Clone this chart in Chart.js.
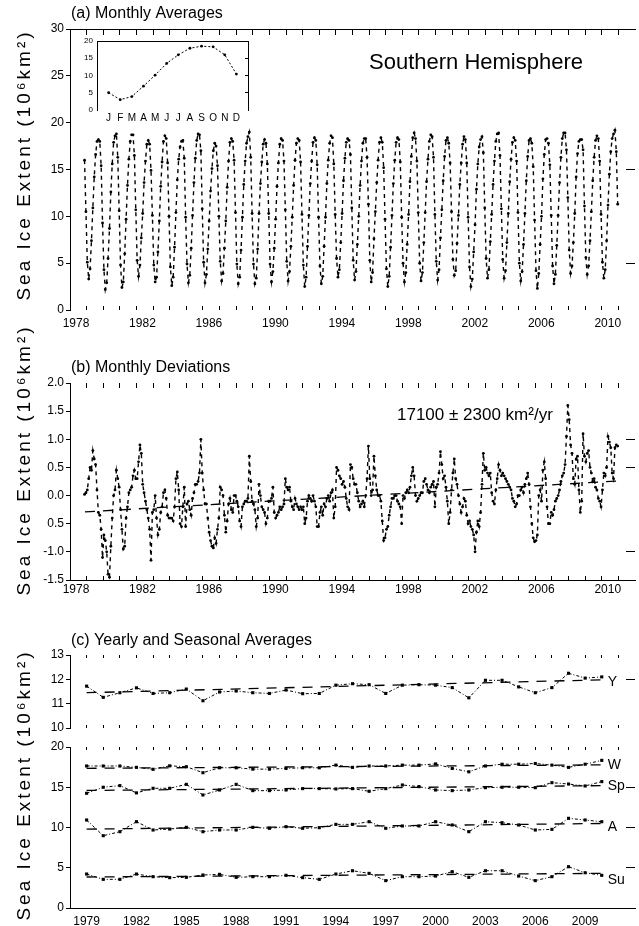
<!DOCTYPE html>
<html>
<head>
<meta charset="utf-8">
<title>Southern Hemisphere sea ice extent</title>
<script src="https://cdn.jsdelivr.net/npm/chart.js@4.4.1/dist/chart.umd.min.js"></script>
<style>
  html, body { margin: 0; padding: 0; background: #fff; }
  #fig { position: relative; width: 639px; height: 926px; overflow: hidden; }
  #fig canvas { position: absolute; }
</style>
</head>
<body>
<div id="fig">
  <canvas id="panelA" width="639" height="340" style="left:0;top:0"></canvas>
  <canvas id="inset" width="180" height="95" style="left:75px;top:30px"></canvas>
  <canvas id="panelB" width="639" height="310" style="left:0;top:300px"></canvas>
  <canvas id="panelC2" width="639" height="316" style="left:0;top:610px"></canvas>
  <canvas id="panelC1" width="639" height="130" style="left:0;top:610px"></canvas>
</div>
<script>
// monthly series start in November 1978
const firstYear = 1978;
const firstMonth = 10;

// (a) monthly averages, 10^6 km^2
const monthlyExtent = [
  16.0, 10.5,
  5.1, 3.3, 4.4, 7.4, 10.9, 14.2, 16.6, 18.0, 18.2, 18.0, 15.4, 9.3,   // 1979
  4.3, 2.2, 2.9, 5.5, 8.7, 12.6, 15.6, 17.9, 18.6, 18.8, 16.3, 10.6,   // 1980
  4.8, 2.4, 3.0, 6.0, 9.7, 13.3, 16.1, 18.0, 18.7, 18.7, 16.5, 10.7,   // 1981
  5.3, 3.6, 4.8, 7.7, 10.3, 13.6, 15.9, 17.7, 18.1, 17.7, 14.9, 10.1,  // 1982
  4.8, 3.0, 3.5, 6.2, 9.5, 13.2, 15.8, 18.0, 18.6, 18.3, 15.7, 10.0,   // 1983
  4.6, 2.6, 3.5, 6.7, 10.4, 13.9, 16.1, 17.4, 18.0, 18.1, 16.2, 9.9,   // 1984
  4.9, 2.9, 3.7, 6.6, 10.1, 13.6, 16.2, 18.1, 18.8, 18.7, 17.0, 10.8,  // 1985
  5.1, 2.9, 3.8, 6.5, 9.5, 12.7, 15.1, 17.0, 17.8, 17.5, 15.4, 10.0,   // 1986
  5.2, 3.1, 3.9, 6.6, 9.5, 13.1, 15.9, 17.9, 18.3, 18.0, 16.0, 10.4,   // 1987
  4.9, 2.8, 3.5, 6.4, 9.9, 13.4, 15.9, 17.8, 18.5, 19.0, 16.3, 10.3,   // 1988
  4.9, 2.8, 3.4, 6.5, 10.3, 13.5, 15.8, 17.7, 18.2, 17.8, 15.6, 10.3,  // 1989
  4.9, 3.0, 4.1, 6.6, 9.7, 13.2, 15.7, 17.7, 18.3, 18.1, 15.9, 10.7,   // 1990
  5.2, 3.1, 4.1, 6.8, 9.9, 13.3, 16.0, 17.8, 18.3, 18.1, 15.8, 10.2,   // 1991
  4.8, 2.5, 3.5, 6.8, 10.1, 13.5, 15.9, 17.9, 18.4, 18.1, 15.5, 9.9,   // 1992
  4.7, 2.8, 3.6, 6.8, 9.9, 13.5, 16.0, 17.8, 18.6, 18.4, 15.6, 10.2,   // 1993
  5.5, 3.5, 4.3, 7.2, 10.3, 13.8, 16.2, 17.9, 18.3, 18.1, 16.6, 10.9,  // 1994
  5.3, 3.2, 4.1, 7.0, 10.0, 13.3, 15.9, 17.8, 18.3, 18.3, 16.3, 11.3,  // 1995
  5.3, 3.0, 4.0, 7.6, 10.5, 13.6, 16.0, 17.9, 18.4, 17.9, 15.2, 9.7,   // 1996
  4.4, 2.5, 3.6, 6.7, 10.1, 13.5, 16.0, 17.9, 18.4, 18.2, 15.8, 9.9,   // 1997
  5.0, 3.0, 4.0, 7.0, 10.2, 13.7, 16.4, 18.4, 18.9, 18.3, 15.9, 10.4,  // 1998
  5.0, 3.1, 4.0, 7.2, 10.4, 13.7, 16.1, 18.0, 18.7, 18.5, 16.3, 10.2,  // 1999
  5.2, 3.2, 4.3, 7.7, 10.7, 13.8, 16.4, 18.1, 18.4, 17.8, 15.7, 10.5,  // 2000
  5.4, 3.7, 4.2, 7.1, 10.1, 13.4, 15.7, 17.7, 18.5, 18.2, 15.7, 9.9,   // 2001
  4.6, 2.5, 3.3, 6.2, 9.1, 12.9, 15.6, 17.4, 18.2, 18.5, 16.8, 10.9,   // 2002
  5.5, 3.4, 4.3, 7.3, 10.2, 13.4, 15.9, 18.0, 18.8, 18.9, 16.5, 10.8,  // 2003
  5.4, 3.4, 4.2, 7.2, 10.3, 13.7, 16.1, 17.9, 18.4, 18.1, 15.9, 10.4,  // 2004
  5.0, 3.1, 4.1, 7.0, 10.3, 13.8, 16.4, 18.1, 18.3, 17.8, 15.3, 9.6,   // 2005
  4.2, 2.3, 3.9, 7.0, 10.0, 14.0, 16.6, 18.2, 18.3, 17.8, 15.5, 10.1,  // 2006
  4.7, 2.8, 3.8, 6.9, 10.1, 13.6, 16.3, 18.3, 18.9, 18.9, 17.1, 12.0,  // 2007
  6.4, 3.9, 4.7, 7.2, 10.3, 14.2, 16.7, 18.0, 18.2, 18.2, 17.1, 11.1,  // 2008
  5.6, 3.8, 4.7, 7.4, 10.5, 13.8, 16.3, 18.1, 18.6, 18.3, 15.9, 10.2,  // 2009
  5.1, 3.4, 4.3, 7.4, 11.2, 14.5, 16.9, 18.3, 18.8, 19.2, 16.9, 11.3   // 2010
];

// (b) monthly deviations, 10^6 km^2
const monthlyDeviation = [
  0.02, 0.05,
  0.10, 0.30, 0.50, 0.45, 0.80, 0.65, 0.55, 0.10, -0.30, -0.35, -0.60, -1.10,     // 1979
  -0.70, -0.80, -1.00, -1.40, -1.45, -0.90, -0.40, 0.00, 0.10, 0.45, 0.30, 0.15,  // 1980
  -0.25, -0.60, -0.95, -0.90, -0.40, -0.20, 0.05, 0.10, 0.15, 0.35, 0.45, 0.30,   // 1981
  0.30, 0.60, 0.90, 0.75, 0.20, 0.05, -0.10, -0.25, -0.40, -0.60, -1.15, -0.30,   // 1982
  -0.25, 0.00, -0.40, -0.70, -0.60, -0.30, -0.20, 0.05, 0.10, -0.05, -0.35, -0.40, // 1983
  -0.40, -0.40, -0.45, -0.20, 0.30, 0.42, 0.10, -0.50, -0.55, -0.20, 0.15, -0.55, // 1984
  -0.15, -0.10, -0.25, -0.35, -0.05, 0.05, 0.20, 0.20, 0.25, 0.40, 1.00, 0.40,    // 1985
  0.10, -0.15, -0.15, -0.40, -0.65, -0.80, -0.90, -0.93, -0.75, -0.85, -0.60, -0.40, // 1986
  0.15, 0.10, 0.00, -0.35, -0.65, -0.45, -0.15, -0.05, -0.25, -0.30, 0.00, 0.00,  // 1987
  -0.10, -0.20, -0.45, -0.55, -0.20, -0.15, -0.10, -0.10, -0.05, 0.70, 0.25, -0.10, // 1988
  -0.15, -0.25, -0.55, -0.40, 0.20, 0.00, -0.20, -0.25, -0.30, -0.50, -0.40, -0.10, // 1989
  -0.10, -0.05, 0.15, -0.30, -0.40, -0.35, -0.30, -0.20, -0.25, -0.20, -0.15, 0.30, // 1990
  0.15, 0.10, 0.15, -0.10, -0.20, -0.25, -0.05, -0.15, -0.20, -0.25, -0.20, -0.25, // 1991
  -0.20, -0.50, -0.40, -0.10, 0.00, -0.05, -0.10, 0.00, -0.10, -0.20, -0.55, -0.55, // 1992
  -0.30, -0.20, -0.35, -0.15, -0.20, -0.05, 0.00, -0.10, 0.05, 0.10, -0.40, -0.20, // 1993
  0.50, 0.45, 0.35, 0.30, 0.20, 0.25, 0.15, -0.05, -0.20, -0.25, 0.55, 0.50,      // 1994
  0.30, 0.20, 0.20, 0.05, -0.10, -0.20, -0.15, -0.10, -0.20, 0.00, 0.30, 0.88,    // 1995
  0.30, 0.00, 0.10, 0.70, 0.35, 0.10, 0.00, 0.00, -0.10, -0.45, -0.80, -0.75,     // 1996
  -0.60, -0.55, -0.35, -0.20, -0.05, -0.05, 0.00, 0.00, -0.10, -0.15, -0.20, -0.50, // 1997
  0.00, -0.05, 0.05, 0.10, 0.05, 0.15, 0.35, 0.50, 0.35, 0.00, -0.10, -0.05,      // 1998
  0.00, 0.05, 0.05, 0.25, 0.30, 0.20, 0.10, 0.05, 0.15, 0.20, 0.25, -0.20,        // 1999
  0.15, 0.20, 0.40, 0.78, 0.55, 0.30, 0.35, 0.15, -0.10, -0.50, -0.30, 0.10,      // 2000
  0.40, 0.65, 0.30, 0.20, 0.00, -0.15, -0.30, -0.20, -0.05, -0.10, -0.35, -0.50,  // 2001
  -0.45, -0.55, -0.60, -0.70, -1.00, -0.65, -0.45, -0.55, -0.30, 0.20, 0.75, 0.45, // 2002
  0.50, 0.40, 0.35, 0.40, 0.05, -0.10, -0.15, 0.10, 0.30, 0.55, 0.45, 0.35,       // 2003
  0.40, 0.35, 0.30, 0.25, 0.20, 0.15, 0.10, -0.05, -0.10, -0.20, -0.15, 0.00,     // 2004
  0.00, 0.10, 0.15, 0.05, 0.20, 0.30, 0.40, 0.20, -0.20, -0.50, -0.75, -0.82,     // 2005
  -0.80, -0.70, 0.00, 0.10, -0.10, 0.45, 0.60, 0.30, -0.20, -0.50, -0.50, -0.30,  // 2006
  -0.35, -0.25, -0.10, -0.05, 0.00, 0.10, 0.25, 0.35, 0.40, 0.55, 1.05, 1.60,     // 2007
  1.35, 0.90, 0.75, 0.30, 0.20, 0.65, 0.70, 0.10, -0.30, -0.10, 1.10, 0.70,       // 2008
  0.60, 0.75, 0.80, 0.50, 0.40, 0.25, 0.30, 0.15, 0.10, -0.05, -0.10, -0.20,      // 2009
  0.10, 0.40, 0.35, 0.50, 1.05, 0.95, 0.85, 0.40, 0.30, 0.85, 0.90, 0.88          // 2010
];
const devTrendX = [1978.9, 2011.0];
const devTrendY = [-0.29, 0.26];

// inset: average seasonal cycle
const climMonths = ['J', 'F', 'M', 'A', 'M', 'J', 'J', 'A', 'S', 'O', 'N', 'D'];
const climExtent = [5.0, 3.0, 3.9, 6.9, 10.1, 13.5, 16.0, 17.9, 18.5, 18.3, 16.0, 10.4];

// (c) yearly and seasonal averages
const seasonYears = [1979, 1980, 1981, 1982, 1983, 1984, 1985, 1986, 1987, 1988, 1989, 1990, 1991, 1992, 1993, 1994,
  1995, 1996, 1997, 1998, 1999, 2000, 2001, 2002, 2003, 2004, 2005, 2006, 2007, 2008, 2009, 2010];
const yearlyAvg = [11.72, 11.26, 11.45, 11.65, 11.42, 11.45, 11.60, 11.12, 11.48, 11.52, 11.45, 11.42, 11.56, 11.41, 11.42, 11.76,
  11.82, 11.78, 11.42, 11.76, 11.78, 11.76, 11.66, 11.24, 11.96, 11.96, 11.69, 11.45, 11.66, 12.25, 12.05, 12.10];
const winterAvg = [17.64, 17.64, 17.64, 17.47, 17.23, 17.66, 17.55, 16.81, 17.42, 17.42, 17.25, 17.25, 17.34, 17.42, 17.42, 17.75,
  17.47, 17.64, 17.64, 17.75, 17.75, 17.90, 17.34, 16.92, 17.64, 17.86, 17.86, 17.95, 17.75, 17.47, 17.86, 18.34];
const springAvg = [14.25, 15.00, 15.20, 14.30, 14.87, 14.87, 15.36, 14.04, 14.66, 15.36, 14.58, 14.58, 14.66, 14.83, 14.83, 14.79,
  14.83, 14.50, 14.83, 15.28, 15.08, 14.66, 14.58, 14.66, 14.95, 15.00, 15.00, 14.95, 15.57, 15.40, 15.16, 15.70];
const autumnAvg = [10.93, 8.98, 9.48, 10.72, 9.69, 9.81, 10.02, 9.48, 9.69, 9.69, 10.02, 9.90, 10.10, 9.90, 9.98, 10.39,
  10.39, 10.72, 9.90, 10.19, 10.19, 10.72, 10.31, 9.48, 10.72, 10.60, 10.31, 9.69, 9.77, 11.14, 10.93, 10.72];
const summerAvg = [4.22, 3.56, 3.56, 4.22, 3.89, 3.77, 3.81, 4.10, 4.18, 3.81, 3.89, 3.89, 4.06, 3.77, 3.56, 4.22,
  4.63, 4.30, 3.40, 3.89, 3.89, 3.97, 4.51, 3.81, 4.63, 4.63, 3.97, 3.40, 3.89, 5.13, 4.38, 4.06];
const trendYears = [1979, 2010];
const yearlyTrend = [11.45, 11.98];
const winterTrend = [17.35, 17.78];
const springTrend = [14.6, 15.2];
const autumnTrend = [9.8, 10.5];
const summerTrend = [3.85, 4.3];

// ticks and labels
const extentTicks = [0, 5, 10, 15, 20, 25, 30];
const devTicks = [-1.5, -1.0, -0.5, 0, 0.5, 1.0, 1.5, 2.0];
const devTickLabels = ['-1.5', '-1.0', '0.5', '0.0', '0.5', '1.0', '1.5', '2.0'];
const yearLabelsAB = [1978, 1982, 1986, 1990, 1994, 1998, 2002, 2006, 2010];
const yearLabelsC = [1979, 1982, 1985, 1988, 1991, 1994, 1997, 2000, 2003, 2006, 2009];
const yearlyTicksC = [10, 11, 12, 13];
const seasonTicksC = [0, 5, 10, 15, 20];
const insetTicks = [0, 5, 10, 15, 20];
const insetMonthTicks = [1, 2, 3, 4, 5, 6, 7, 8, 9, 10, 11, 12];

const yearTicks = [];
for (let yr = 1979; yr <= 2011; yr++) yearTicks.push(yr);
const yearTicksAB = [1978].concat(yearTicks);

const FONT = '"Liberation Sans", Arial, Helvetica, sans-serif';
const BLACK = '#000';
const Y_TITLE = 'Sea Ice Extent (10\u2076km\u00b2)';

const monthX = i => firstYear + (firstMonth + i + 0.5) / 12;
const pairs = (xs, ys) => ys.map((v, i) => ({ x: xs[i], y: v }));

const fixSize = px => scale => {
  if (scale.isHorizontal()) scale.height = px; else scale.width = px;
};
const useTicks = values => scale => {
  scale.ticks = values.map(v => ({ value: v }));
};

// axis that only carries inward tick marks (and maybe its line)
function tickAxis(position, min, max, values, size, len, showLine) {
  return {
    type: 'linear', position, min, max,
    afterBuildTicks: useTicks(values),
    afterFit: fixSize(size),
    border: { display: showLine, color: BLACK, width: 1 },
    grid: { drawOnChartArea: false, drawTicks: len !== 0, tickLength: -len, color: BLACK, lineWidth: 1 },
    ticks: { display: false }
  };
}

function yearAxis(min, max, tickYears, labelYears, offset, size, len, pad, showLine) {
  return {
    type: 'linear', position: 'bottom', min, max,
    afterBuildTicks: useTicks(tickYears),
    afterFit: fixSize(size),
    border: { display: showLine, color: BLACK, width: 1 },
    grid: { drawOnChartArea: false, drawTicks: len !== 0, tickLength: -len, color: BLACK, lineWidth: 1 },
    ticks: {
      autoSkip: false, maxRotation: 0, labelOffset: offset, padding: pad,
      color: BLACK, font: { family: FONT, size: 12 },
      callback: v => labelYears.includes(v) ? String(v) : ''
    }
  };
}

function valueAxis(min, max, values, labels, opts) {
  const o = Object.assign({ size: 70, fontSize: 12, tickLen: 4, pad: 2 }, opts);
  return {
    type: 'linear', position: 'left', min, max,
    afterBuildTicks: useTicks(values),
    afterFit: fixSize(o.size),
    border: { display: true, color: BLACK, width: 1 },
    grid: { drawOnChartArea: false, drawTicks: o.tickLen !== 0, tickLength: o.tickLen, color: BLACK },
    ticks: {
      padding: o.pad, color: BLACK, font: { family: FONT, size: o.fontSize },
      callback: v => labels ? labels[values.indexOf(v)] : String(v)
    }
  };
}

function textPlugin(items) {
  return {
    id: 'figureText',
    afterDraw(chart) {
      const ctx = chart.ctx;
      items.forEach(item => {
        const pos = item.at(chart);
        ctx.save();
        ctx.font = (item.size || 16) + 'px ' + FONT;
        ctx.fillStyle = BLACK;
        ctx.textAlign = item.align || 'left';
        ctx.textBaseline = 'middle';
        if (item.spacing) ctx.letterSpacing = item.spacing + 'px';
        ctx.translate(pos[0], pos[1]);
        if (item.rotate) ctx.rotate(item.rotate);
        ctx.fillText(item.text, 0, 0);
        ctx.restore();
      });
    }
  };
}

const baseOptions = {
  responsive: false, animation: false, devicePixelRatio: 1, events: [],
  layout: { padding: 0 },
  plugins: { legend: { display: false }, tooltip: { enabled: false } }
};

const monthlyStyle = {
  borderColor: BLACK, borderWidth: 1.4, borderDash: [4, 4],
  pointRadius: 1.4, pointBackgroundColor: BLACK, pointBorderWidth: 0, tension: 0
};
const seasonStyle = {
  borderColor: BLACK, borderWidth: 1, borderDash: [3, 2, 1, 2],
  pointStyle: 'rect', pointRadius: 2.2, pointBackgroundColor: BLACK, pointBorderWidth: 0, tension: 0
};
const trendStyle = { borderColor: BLACK, borderWidth: 1.3, borderDash: [10, 8], pointRadius: 0 };

const yTitle = (cy) => ({ text: Y_TITLE, at: () => [25, cy], size: 19, spacing: 3, align: 'center', rotate: -Math.PI / 2 });
const seriesLabel = (text, values) => ({
  text, size: 14,
  at: c => [c.scales.x.getPixelForValue(seasonYears[seasonYears.length - 1]) + 6,
            c.scales.y.getPixelForValue(values[values.length - 1]) + 5]
});

// (a) Monthly Averages
new Chart(document.getElementById('panelA'), {
  type: 'line',
  data: { datasets: [Object.assign({ data: monthlyExtent.map((v, i) => ({ x: monthX(i), y: v })) }, monthlyStyle)] },
  options: Object.assign({}, baseOptions, {
    scales: {
      x: yearAxis(1978, 2012, yearTicksAB, yearLabelsAB, 6, 30, 4, 10, false),
      xTop: tickAxis('top', 1978, 2012, yearTicks, 29, 6, true),
      y: valueAxis(0, 30, extentTicks, null),
      yRight: tickAxis('right', 0, 30, [5, 15], 2, 9, false)
    }
  }),
  plugins: [textPlugin([
    { text: '(a) Monthly Averages', at: () => [71, 14], size: 16 },
    { text: 'Southern Hemisphere', at: () => [369, 63], size: 22 },
    yTitle(165)
  ])]
});

// inset: seasonal cycle
new Chart(document.getElementById('inset'), {
  type: 'line',
  data: { datasets: [{
    data: pairs(insetMonthTicks, climExtent),
    borderColor: BLACK, borderWidth: 1, borderDash: [2, 2],
    pointRadius: 1.4, pointBackgroundColor: BLACK, pointBorderWidth: 0, tension: 0
  }] },
  options: Object.assign({}, baseOptions, {
    scales: {
      x: {
        type: 'linear', position: 'bottom', min: 0, max: 13,
        afterBuildTicks: useTicks(insetMonthTicks),
        afterFit: fixSize(15),
        border: { display: false },
        grid: { drawOnChartArea: false, drawTicks: false },
        ticks: { autoSkip: false, maxRotation: 0, padding: 2, color: BLACK, font: { family: FONT, size: 10 },
          callback: v => climMonths[v - 1] || '' }
      },
      xTop: tickAxis('top', 0, 13, [], 11, 0, true),
      y: valueAxis(0, 20, insetTicks, null, { size: 22, fontSize: 8, tickLen: 0, pad: 4 }),
      yRight: tickAxis('right', 0, 20, [5, 10, 15], 7, 3, true)
    }
  })
});

// (b) Monthly Deviations
new Chart(document.getElementById('panelB'), {
  type: 'line',
  data: { datasets: [
    Object.assign({ data: monthlyDeviation.map((v, i) => ({ x: monthX(i), y: v })) }, monthlyStyle),
    Object.assign({ data: pairs(devTrendX, devTrendY) }, trendStyle)
  ] },
  options: Object.assign({}, baseOptions, {
    scales: {
      x: yearAxis(1978, 2012, yearTicksAB, yearLabelsAB, 6, 30, 4, 6, true),
      xTop: tickAxis('top', 1978, 2012, yearTicks, 83, 5, false),
      y: valueAxis(-1.5, 2.0, devTicks, devTickLabels),
      yRight: tickAxis('right', -1.5, 2.0, [-1.0, 0.5, 1.0], 2, 9, false)
    }
  }),
  plugins: [textPlugin([
    { text: '(b) Monthly Deviations', at: () => [71, 68], size: 16 },
    { text: '17100 \u00b1 2300 km\u00b2/yr', at: () => [397, 115], size: 17 },
    yTitle(160)
  ])]
});

// (c) Yearly and Seasonal Averages, lower part: seasons
new Chart(document.getElementById('panelC2'), {
  type: 'line',
  data: { datasets: [
    Object.assign({ data: pairs(seasonYears, winterAvg) }, seasonStyle),
    Object.assign({ data: pairs(seasonYears, springAvg) }, seasonStyle),
    Object.assign({ data: pairs(seasonYears, autumnAvg) }, seasonStyle),
    Object.assign({ data: pairs(seasonYears, summerAvg) }, seasonStyle),
    Object.assign({ data: pairs(trendYears, winterTrend) }, trendStyle),
    Object.assign({ data: pairs(trendYears, springTrend) }, trendStyle),
    Object.assign({ data: pairs(trendYears, autumnTrend) }, trendStyle),
    Object.assign({ data: pairs(trendYears, summerTrend) }, trendStyle)
  ] },
  options: Object.assign({}, baseOptions, {
    scales: {
      x: yearAxis(1978, 2012, yearTicks, yearLabelsC, 0, 18, 0, 6, true),
      xTop: tickAxis('top', 1978, 2012, yearTicks, 137, 3, false),
      y: valueAxis(0, 20, seasonTicksC, null),
      yRight: tickAxis('right', 0, 20, [5, 10, 15], 2, 9, false)
    }
  }),
  plugins: [textPlugin([
    { text: '(c) Yearly and Seasonal Averages', at: () => [71, 31], size: 16 },
    yTitle(175),
    seriesLabel('W', winterAvg),
    seriesLabel('Sp', springAvg),
    seriesLabel('A', autumnAvg),
    seriesLabel('Su', summerAvg)
  ])]
});

// (c) upper part: yearly averages
new Chart(document.getElementById('panelC1'), {
  type: 'line',
  data: { datasets: [
    Object.assign({ data: pairs(seasonYears, yearlyAvg) }, seasonStyle),
    Object.assign({ data: pairs(trendYears, yearlyTrend) }, trendStyle)
  ] },
  options: Object.assign({}, baseOptions, {
    scales: {
      x: {
        type: 'linear', position: 'bottom', min: 1978, max: 2012,
        afterBuildTicks: useTicks(yearTicks),
        afterFit: fixSize(12),
        border: { display: false },
        grid: { drawOnChartArea: false, tickLength: -3, color: BLACK },
        ticks: { display: false }
      },
      xTop: tickAxis('top', 1978, 2012, yearTicks, 45, 3, false),
      y: valueAxis(10, 13, yearlyTicksC, null),
      yRight: tickAxis('right', 10, 13, [12], 2, 9, false)
    }
  }),
  plugins: [textPlugin([seriesLabel('Y', yearlyAvg)])]
});
</script>
</body>
</html>
